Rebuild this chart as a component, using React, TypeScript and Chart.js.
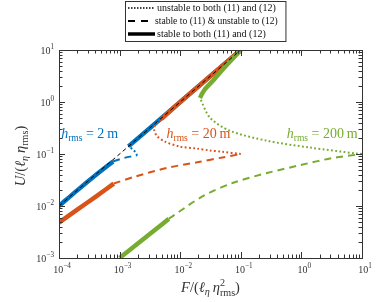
import React, { useEffect, useRef } from 'react';
import { Chart, registerables } from 'chart.js';

Chart.register(...registerables);

// ---------- data ----------
const X_DECADES = [1e-4, 1e-3, 1e-2, 1e-1, 1, 10];
const X_EXPONENTS = ['\u22124', '\u22123', '\u22122', '\u22121', '0', '1'];
const Y_DECADES = [1e-3, 1e-2, 1e-1, 1, 10];
const Y_EXPONENTS = ['\u22123', '\u22122', '\u22121', '0', '1'];

// asymptote (thin black dashed)
const ASYM_F = [1e-4, 1e-1];
const ASYM_U = [1e-2, 10];

// h_rms = 2 m (blue)
const BLUE_STABLE_LO_F = [1e-4, 2e-4, 4e-4, 7.8e-4];
const BLUE_STABLE_LO_U = [0.01, 0.02, 0.039, 0.072];
const BLUE_DASH_F = [7.8e-4, 1.1e-3, 1.5e-3, 1.94e-3];
const BLUE_DASH_U = [0.072, 0.082, 0.089, 0.093];
const BLUE_DOT_F = [1.94e-3, 1.85e-3, 1.65e-3, 1.4e-3];
const BLUE_DOT_U = [0.093, 0.106, 0.122, 0.14];
const BLUE_STABLE_HI_F = [1.4e-3, 1e-2, 1e-1];
const BLUE_STABLE_HI_U = [0.14, 1.0, 10];

// h_rms = 20 m (orange)
const ORANGE_STABLE_LO_F = [1e-4, 2e-4, 4e-4, 8e-4];
const ORANGE_STABLE_LO_U = [0.0048, 0.0085, 0.015, 0.027];
const ORANGE_DASH_F = [8e-4, 1.7e-3, 6e-3, 2e-2, 5e-2, 1e-1];
const ORANGE_DASH_U = [0.027, 0.036, 0.054, 0.07, 0.086, 0.1];
const ORANGE_DOT_F = [0.1, 0.05, 0.031, 0.018, 0.01, 0.0056, 0.0041, 0.0037, 0.004, 0.0049];
const ORANGE_DOT_U = [0.1, 0.11, 0.117, 0.128, 0.139, 0.173, 0.225, 0.306, 0.38, 0.47];
const ORANGE_STABLE_HI_F = [4.9e-3, 1e-2, 1e-1];
const ORANGE_STABLE_HI_U = [0.47, 1.0, 10];

// h_rms = 200 m (green)
const GREEN_STABLE_LO_F = [1e-3, 2e-3, 4e-3, 6.5e-3];
const GREEN_STABLE_LO_U = [1e-3, 1.9e-3, 3.6e-3, 5.7e-3];
const GREEN_DASH_F = [6.5e-3, 0.024, 0.075, 0.27, 0.95, 3.3, 10];
const GREEN_DASH_U = [5.7e-3, 0.0156, 0.028, 0.043, 0.061, 0.084, 0.1];
const GREEN_DOT_F = [10, 8.3, 1.38, 0.27, 0.066, 0.031, 0.0212];
const GREEN_DOT_U = [0.1, 0.102, 0.133, 0.18, 0.28, 0.5, 1.19];
const GREEN_STABLE_HI_F = [0.0212, 0.023, 0.026, 0.035, 0.059, 0.1];
const GREEN_STABLE_HI_U = [1.19, 1.45, 1.8, 2.6, 5.2, 10];

const LEGEND_LABELS = [
  'unstable to both (11) and (12)',
  'stable to (11) & unstable to (12)',
  'stable to both (11) and (12)',
];
const CURVE_LABELS = ['2', '20', '200'];
const CURVE_LABEL_F = [3.2e-4, 2.0e-2, 2.2];
const CURVE_LABEL_U = [0.2, 0.2, 0.2];

// ---------- styles ----------
const BLUE = '#0072BD';
const ORANGE = '#D95319';
const GREEN = '#77AC30';
const AXIS = '#333333';
const FONT = '"Liberation Serif", "DejaVu Serif", serif';

type Style = 'solid' | 'dash' | 'dot';

function seg(F: number[], U: number[], color: string, style: Style, order: number) {
  const width = style === 'solid' ? 4.5 : 2;
  const dash = style === 'solid' ? [] : style === 'dash' ? [7, 5] : [1.8, 2.4];
  return {
    data: F.map((f, i) => ({ x: f, y: U[i] })),
    borderColor: color,
    backgroundColor: color,
    borderWidth: width,
    borderDash: dash,
    borderCapStyle: 'butt' as const,
    showLine: true,
    pointRadius: 0,
    fill: false,
    tension: 0.3,
    order,
  };
}

type Piece = { t: string; it?: boolean; sz?: number; dy?: number; adv?: boolean };

function pieceFont(p: Piece, base: number) {
  return `${p.it ? 'italic ' : ''}${(p.sz ?? 1) * base}px ${FONT}`;
}

function runWidth(ctx: CanvasRenderingContext2D, pieces: Piece[], base: number) {
  let w = 0;
  for (const p of pieces) {
    ctx.font = pieceFont(p, base);
    if (p.adv !== false) w += ctx.measureText(p.t).width;
  }
  return w;
}

function drawRun(
  ctx: CanvasRenderingContext2D,
  pieces: Piece[],
  x: number,
  y: number,
  base: number,
  color: string,
  align: 'left' | 'center' | 'right'
) {
  const w = runWidth(ctx, pieces, base);
  let cx = align === 'center' ? x - w / 2 : align === 'right' ? x - w : x;
  ctx.fillStyle = color;
  ctx.textAlign = 'left';
  ctx.textBaseline = 'alphabetic';
  for (const p of pieces) {
    ctx.font = pieceFont(p, base);
    ctx.fillText(p.t, cx, y + (p.dy ?? 0));
    if (p.adv !== false) cx += ctx.measureText(p.t).width;
  }
}

const decorPlugin = {
  id: 'decor',
  afterDatasetsDraw(chart: any) {
    const ctx: CanvasRenderingContext2D = chart.ctx;
    const { left, right, top, bottom } = chart.chartArea;
    const xs = chart.scales.x;
    const ys = chart.scales.y;
    ctx.save();
    // frame
    ctx.strokeStyle = AXIS;
    ctx.lineWidth = 1;
    ctx.setLineDash([]);
    ctx.strokeRect(Math.round(left) + 0.5, Math.round(top) + 0.5, Math.round(right - left), Math.round(bottom - top));

    // ticks
    const MAJ = 6;
    const MIN = 3.5;
    ctx.beginPath();
    for (let d = 0; d < X_DECADES.length; d++) {
      for (let k = 1; k <= 9; k++) {
        const v = X_DECADES[d] * k;
        if (v > X_DECADES[X_DECADES.length - 1] * 1.0001) break;
        const px = Math.round(xs.getPixelForValue(v)) + 0.5;
        const len = k === 1 ? MAJ : MIN;
        ctx.moveTo(px, bottom);
        ctx.lineTo(px, bottom - len);
        ctx.moveTo(px, top);
        ctx.lineTo(px, top + len);
      }
    }
    for (let d = 0; d < Y_DECADES.length; d++) {
      for (let k = 1; k <= 9; k++) {
        const v = Y_DECADES[d] * k;
        if (v > Y_DECADES[Y_DECADES.length - 1] * 1.0001) break;
        const py = Math.round(ys.getPixelForValue(v)) + 0.5;
        const len = k === 1 ? MAJ : MIN;
        ctx.moveTo(left, py);
        ctx.lineTo(left + len, py);
        ctx.moveTo(right, py);
        ctx.lineTo(right - len, py);
      }
    }
    ctx.stroke();

    // tick labels
    X_DECADES.forEach((v, i) => {
      const px = xs.getPixelForValue(v);
      drawRun(
        ctx,
        [
          { t: '10' },
          { t: X_EXPONENTS[i], sz: 0.72, dy: -5 },
        ],
        px + 3,
        bottom + 15,
        10,
        AXIS,
        'center'
      );
    });
    Y_DECADES.forEach((v, i) => {
      const py = ys.getPixelForValue(v);
      drawRun(
        ctx,
        [
          { t: '10' },
          { t: Y_EXPONENTS[i], sz: 0.72, dy: -5 },
        ],
        left - 5,
        py + 3.5,
        10,
        AXIS,
        'right'
      );
    });

    // axis titles
    drawRun(
      ctx,
      [
        { t: 'F', it: true },
        { t: '/(' },
        { t: '\u2113', it: true },
        { t: '\u03b7', it: true, sz: 0.7, dy: 3 },
        { t: '\u2009' },
        { t: '\u03b7', it: true },
        { t: '2', sz: 0.7, dy: -6, adv: false },
        { t: 'rms', sz: 0.7, dy: 4 },
        { t: ')' },
      ],
      (left + right) / 2,
      bottom + 34,
      14.5,
      AXIS,
      'center'
    );
    ctx.save();
    ctx.translate(25, (top + bottom) / 2 + 2);
    ctx.rotate(-Math.PI / 2);
    drawRun(
      ctx,
      [
        { t: 'U', it: true },
        { t: '/(' },
        { t: '\u2113', it: true },
        { t: '\u03b7', it: true, sz: 0.7, dy: 3 },
        { t: '\u2009' },
        { t: '\u03b7', it: true },
        { t: 'rms', sz: 0.7, dy: 3 },
        { t: ')' },
      ],
      0,
      0,
      14.5,
      AXIS,
      'center'
    );
    ctx.restore();

    // curve annotations
    const colors = [BLUE, ORANGE, GREEN];
    CURVE_LABELS.forEach((lab, i) => {
      const px = xs.getPixelForValue(CURVE_LABEL_F[i]);
      const py = ys.getPixelForValue(CURVE_LABEL_U[i]);
      drawRun(
        ctx,
        [
          { t: 'h', it: true },
          { t: 'rms', sz: 0.68, dy: 3 },
          { t: ' = ' + lab + '\u2009m' },
        ],
        px,
        py,
        14,
        colors[i],
        'center'
      );
    });

    // legend box
    const lx = 125.5;
    const lyTop = 1.5;
    const textXs = [157, 155, 157];
    ctx.font = `10px ${FONT}`;
    const maxR = Math.max(...LEGEND_LABELS.map((s, i) => textXs[i] + ctx.measureText(s).width));
    const boxW = Math.min(maxR + 3, 304) - lx;
    ctx.fillStyle = '#ffffff';
    ctx.fillRect(lx, lyTop, boxW, 40);
    ctx.strokeStyle = '#333333';
    ctx.lineWidth = 1;
    ctx.setLineDash([]);
    ctx.strokeRect(lx, lyTop, boxW, 40);
    const rowsY = [8, 21, 34];
    const styles: [number, number[]][] = [
      [1.5, [1.5, 1.5]],
      [2, [7, 6]],
      [3.5, []],
    ];
    rowsY.forEach((ry, i) => {
      ctx.beginPath();
      ctx.strokeStyle = '#000000';
      ctx.lineWidth = styles[i][0];
      ctx.setLineDash(styles[i][1]);
      ctx.lineCap = 'butt';
      ctx.moveTo(128, ry);
      ctx.lineTo(i === 1 ? 152 : 155, ry);
      ctx.stroke();
      ctx.setLineDash([]);
      ctx.fillStyle = '#111111';
      ctx.font = `${i === 1 ? 9.6 : 10}px ${FONT}`;
      ctx.textAlign = 'left';
      ctx.textBaseline = 'middle';
      ctx.fillText(LEGEND_LABELS[i], textXs[i], ry + 0.5);
    });
    ctx.restore();
  },
};

export default function App() {
  const ref = useRef<HTMLCanvasElement | null>(null);
  useEffect(() => {
    if (!ref.current) return;
    const datasets: any[] = [
      { ...seg(ASYM_F, ASYM_U, '#000000', 'dash', 0), borderWidth: 1, borderDash: [4, 3], tension: 0 },
      seg(GREEN_STABLE_LO_F, GREEN_STABLE_LO_U, GREEN, 'solid', 1),
      seg(GREEN_DASH_F, GREEN_DASH_U, GREEN, 'dash', 1),
      seg(GREEN_DOT_F, GREEN_DOT_U, GREEN, 'dot', 1),
      seg(GREEN_STABLE_HI_F, GREEN_STABLE_HI_U, GREEN, 'solid', 1),
      seg(ORANGE_STABLE_LO_F, ORANGE_STABLE_LO_U, ORANGE, 'solid', 2),
      seg(ORANGE_DASH_F, ORANGE_DASH_U, ORANGE, 'dash', 2),
      seg(ORANGE_DOT_F, ORANGE_DOT_U, ORANGE, 'dot', 2),
      seg(ORANGE_STABLE_HI_F, ORANGE_STABLE_HI_U, ORANGE, 'solid', 2),
      seg(BLUE_STABLE_LO_F, BLUE_STABLE_LO_U, BLUE, 'solid', 3),
      seg(BLUE_DASH_F, BLUE_DASH_U, BLUE, 'dash', 3),
      seg(BLUE_DOT_F, BLUE_DOT_U, BLUE, 'dot', 3),
      seg(BLUE_STABLE_HI_F, BLUE_STABLE_HI_U, BLUE, 'solid', 3),
    ];
    const chart = new Chart(ref.current, {
      type: 'scatter',
      data: { datasets },
      options: {
        animation: false,
        responsive: false,
        maintainAspectRatio: false,
        layout: { padding: { left: 59, right: 29, top: 50, bottom: 44 } },
        scales: {
          x: { type: 'logarithmic', min: 1e-4, max: 10, display: false },
          y: { type: 'logarithmic', min: 1e-3, max: 10, display: false },
        },
        plugins: { legend: { display: false }, tooltip: { enabled: false } },
      },
      plugins: [decorPlugin],
    } as any);
    return () => chart.destroy();
  }, []);
  return (
    <canvas
      ref={ref}
      width={391}
      height={302}
      style={{ position: 'fixed', left: 0, top: 0, width: 391, height: 302, display: 'block', background: '#fff' }}
    />
  );
}
